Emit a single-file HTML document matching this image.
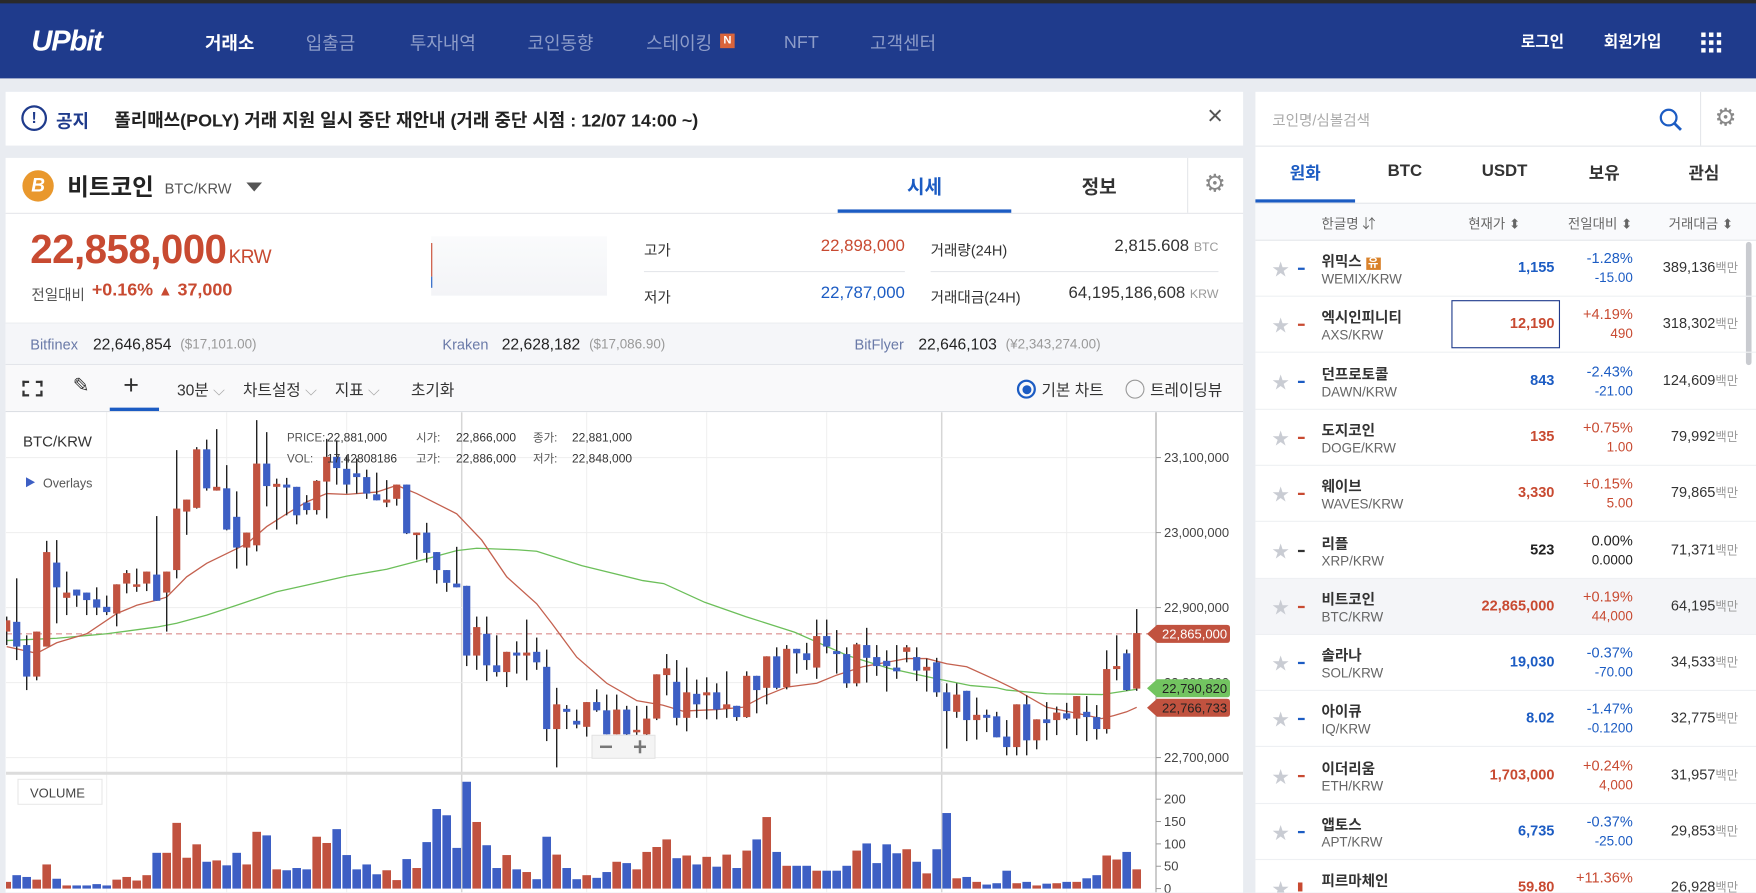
<!DOCTYPE html>
<html><head><meta charset="utf-8">
<style>
*{margin:0;padding:0;box-sizing:border-box}
body{width:1756px;height:892px;overflow:hidden;background:#e9ecf1;font-family:"Liberation Sans","Noto Sans CJK KR",sans-serif;color:#333}
#root{position:absolute;left:0;top:0;width:1568px;height:797px;transform:scale(1.1199);transform-origin:0 0;background:#e9ecf1}
.a{position:absolute;white-space:nowrap}
.nav{left:0;top:0;width:1568px;height:70px;background:#1f3b8c;border-top:3px solid #2a2a2a}
.menu{top:27px;font-size:16px;line-height:20px;height:20px;color:#8d9cc8}
.panel{background:#fff}
.red{color:#c84a31}.blue{color:#1c5cc3}
.row{position:absolute;left:1121px;width:447px;height:50px;border-bottom:1px solid #eef0f3}
.row .star{left:15px;top:15px;font-size:15px;color:#c9ccd3}
.row .mk{left:38px;top:24px;width:6px;height:2px}
.row .nm{left:59px;top:8px;font-size:13px;font-weight:bold;color:#333}
.row .sy{left:59px;top:27px;font-size:12px;color:#666}
.row .pr{right:180px;top:16px;font-size:13px;font-weight:bold;text-align:right}
.row .c1{right:110px;top:8px;font-size:13px;text-align:right}
.row .c2{right:110px;top:26px;font-size:12px;text-align:right}
.row .vo{right:16px;top:16px;font-size:13px;text-align:right;color:#333}
.row .vo small{font-size:11px;color:#999}
</style></head><body>
<div id="root">
<div class="a nav">
  <div class="a" style="left:28px;top:18px;font-size:26px;font-weight:bold;font-style:italic;color:#fff;letter-spacing:-1px">UPbit</div>
  <div class="a menu" style="left:183px;color:#fff;font-weight:bold">거래소</div>
  <div class="a menu" style="left:273px">입출금</div>
  <div class="a menu" style="left:366px">투자내역</div>
  <div class="a menu" style="left:471px">코인동향</div>
  <div class="a menu" style="left:577px">스테이킹</div>
  <div class="a" style="left:643px;top:27px;width:13px;height:13px;background:#d9643b;color:#fff;font-size:10px;font-weight:bold;text-align:center;line-height:13px">N</div>
  <div class="a menu" style="left:700px;top:26px">NFT</div>
  <div class="a menu" style="left:777px">고객센터</div>
  <div class="a" style="left:1358px;top:24px;font-size:14px;color:#fff;font-weight:bold">로그인</div>
  <div class="a" style="left:1432px;top:24px;font-size:14px;color:#fff;font-weight:bold">회원가입</div>
  <svg class="a" style="left:1519px;top:26px" width="18" height="18"><g fill="#fff"><rect x="0" y="0" width="4" height="4"/><rect x="7" y="0" width="4" height="4"/><rect x="14" y="0" width="4" height="4"/><rect x="0" y="7" width="4" height="4"/><rect x="7" y="7" width="4" height="4"/><rect x="14" y="7" width="4" height="4"/><rect x="0" y="14" width="4" height="4"/><rect x="7" y="14" width="4" height="4"/><rect x="14" y="14" width="4" height="4"/></g></svg>
</div>

<div class="a panel" style="left:5px;top:82px;width:1105px;height:48px">
  <div class="a" style="left:14px;top:12px;width:23px;height:23px;border:2px solid #1f3b8c;border-radius:50%;color:#1f3b8c;font-weight:bold;font-size:14px;text-align:center;line-height:19px">!</div>
  <div class="a" style="left:45px;top:13px;font-size:16px;font-weight:bold;color:#1f3b8c">공지</div>
  <div class="a" style="left:97px;top:12px;font-size:16px;font-weight:bold;color:#222">폴리매쓰(POLY) 거래 지원 일시 중단 재안내 (거래 중단 시점 : 12/07 14:00 ~)</div>
  <div class="a" style="left:1073px;top:8px;font-size:24px;color:#555">×</div>
</div>

<div class="a panel" style="left:5px;top:141px;width:1105px;height:656px">
  <div class="a" style="left:0;top:49px;width:1105px;height:1px;background:#e5e7eb"></div>
  <div class="a" style="left:15px;top:11px;width:28px;height:28px;border-radius:50%;background:#e9982d;color:#fff;font-weight:bold;font-size:17px;text-align:center;line-height:28px;font-style:italic">B</div>
  <div class="a" style="left:55px;top:10px;font-size:21px;font-weight:bold;color:#222">비트코인</div>
  <div class="a" style="left:142px;top:20px;font-size:13px;color:#555">BTC/KRW</div>
  <div class="a" style="left:215px;top:22px;width:0;height:0;border-left:7px solid transparent;border-right:7px solid transparent;border-top:8px solid #555"></div>
  <div class="a" style="left:743px;top:12px;width:155px;text-align:center;font-size:17px;font-weight:bold;color:#1c5cc3">시세</div>
  <div class="a" style="left:743px;top:46px;width:155px;height:3px;background:#1c5cc3"></div>
  <div class="a" style="left:898px;top:12px;width:157px;text-align:center;font-size:17px;font-weight:bold;color:#333">정보</div>
  <div class="a" style="left:1055px;top:0;width:1px;height:49px;background:#e5e7eb"></div>
  <div class="a" style="left:1070px;top:10px;font-size:22px;color:#888">⚙</div>

  <div class="a red" style="left:22px;top:61px;font-size:36px;font-weight:bold;letter-spacing:-0.5px">22,858,000<span style="font-size:17px;font-weight:normal;margin-left:2px">KRW</span></div>
  <div class="a" style="left:23px;top:112px;font-size:13px;color:#555">전일대비</div>
  <div class="a red" style="left:77px;top:110px;font-size:16px;font-weight:bold">+0.16% <span style="font-size:13px">▲</span> 37,000</div>
  <div class="a" style="left:380px;top:70px;width:157px;height:53px;background:linear-gradient(#fafbfc,#f3f4f7)"><div class="a" style="left:0;top:6px;width:1px;height:30px;background:#c84a31"></div><div class="a" style="left:0;top:36px;width:1px;height:10px;background:#1c5cc3"></div></div>
  <div class="a" style="left:570px;top:72px;font-size:13px">고가</div>
  <div class="a red" style="left:650px;top:70px;width:153px;text-align:right;font-size:15px">22,898,000</div>
  <div class="a" style="left:570px;top:101px;width:233px;height:1px;background:#e5e7eb"></div>
  <div class="a" style="left:570px;top:114px;font-size:13px">저가</div>
  <div class="a blue" style="left:650px;top:112px;width:153px;text-align:right;font-size:15px">22,787,000</div>
  <div class="a" style="left:826px;top:72px;font-size:13px">거래량(24H)</div>
  <div class="a" style="left:880px;top:70px;width:203px;text-align:right;font-size:15px">2,815.608 <span style="font-size:11px;color:#999">BTC</span></div>
  <div class="a" style="left:826px;top:101px;width:257px;height:1px;background:#e5e7eb"></div>
  <div class="a" style="left:826px;top:114px;font-size:13px">거래대금(24H)</div>
  <div class="a" style="left:880px;top:112px;width:203px;text-align:right;font-size:15px">64,195,186,608 <span style="font-size:11px;color:#999">KRW</span></div>

  <div class="a" style="left:0;top:147px;width:1105px;height:38px;background:#f5f6f9;border-top:1px solid #eceef2;border-bottom:1px solid #e3e5ea">
    <div class="a" style="left:22px;top:11px;font-size:13px;color:#6a7aa8">Bitfinex</div>
    <div class="a" style="left:78px;top:10px;font-size:14px;color:#222">22,646,854</div>
    <div class="a" style="left:156px;top:11px;font-size:12px;color:#999">($17,101.00)</div>
    <div class="a" style="left:390px;top:11px;font-size:13px;color:#6a7aa8">Kraken</div>
    <div class="a" style="left:443px;top:10px;font-size:14px;color:#222">22,628,182</div>
    <div class="a" style="left:521px;top:11px;font-size:12px;color:#999">($17,086.90)</div>
    <div class="a" style="left:758px;top:11px;font-size:13px;color:#6a7aa8">BitFlyer</div>
    <div class="a" style="left:815px;top:10px;font-size:14px;color:#222">22,646,103</div>
    <div class="a" style="left:893px;top:11px;font-size:12px;color:#999">(¥2,343,274.00)</div>
  </div>

  <div class="a" style="left:0;top:185px;width:1105px;height:42px;background:#f9f9fa;border-bottom:1px solid #dcdfe4">
    <div class="a" style="left:15px;top:14px;width:18px;height:14px;border:2px dashed #333;border-width:2px"></div>
    <div class="a" style="left:60px;top:8px;font-size:18px;color:#333">✎</div>
    <div class="a" style="left:105px;top:5px;font-size:24px;color:#333">+</div>
    <div class="a" style="left:93px;top:38px;width:44px;height:3px;background:#1c5cc3"></div>
    <div class="a" style="left:153px;top:12px;font-size:14px">30분 <span style="color:#aaa">⌵</span></div>
    <div class="a" style="left:212px;top:12px;font-size:14px">차트설정 <span style="color:#aaa">⌵</span></div>
    <div class="a" style="left:294px;top:12px;font-size:14px">지표 <span style="color:#aaa">⌵</span></div>
    <div class="a" style="left:362px;top:12px;font-size:14px">초기화</div>
    <div class="a" style="left:903px;top:13px;width:17px;height:17px;border:2px solid #1c5cc3;border-radius:50%"><div class="a" style="left:2.5px;top:2.5px;width:8px;height:8px;border-radius:50%;background:#1c5cc3"></div></div>
    <div class="a" style="left:925px;top:12px;font-size:14px">기본 차트</div>
    <div class="a" style="left:1000px;top:13px;width:17px;height:17px;border:1px solid #999;border-radius:50%"></div>
    <div class="a" style="left:1022px;top:12px;font-size:14px">트레이딩뷰</div>
  </div>
</div>

<div class="a panel" style="left:1121px;top:82px;width:447px;height:715px">
  <div class="a" style="left:15px;top:15px;font-size:13px;color:#aaa">코인명/심볼검색</div>
  <svg class="a" style="left:360px;top:14px" width="22" height="22"><circle cx="9" cy="9" r="7" fill="none" stroke="#1c5cc3" stroke-width="2"/><line x1="14" y1="14" x2="20" y2="20" stroke="#1c5cc3" stroke-width="2.5"/></svg>
  <div class="a" style="left:397px;top:0;width:1px;height:48px;background:#e5e7eb"></div>
  <div class="a" style="left:410px;top:10px;font-size:22px;color:#888">⚙</div>
  <div class="a" style="left:0;top:48px;width:447px;height:1px;background:#e5e7eb"></div>
  <div class="a" style="left:0;top:62px;width:89px;text-align:center;font-size:15px;font-weight:bold;color:#1c5cc3">원화</div>
  <div class="a" style="left:0;top:96px;width:89px;height:3px;background:#1c5cc3"></div>
  <div class="a" style="left:89px;top:62px;width:89px;text-align:center;font-size:15px;font-weight:bold">BTC</div>
  <div class="a" style="left:178px;top:62px;width:89px;text-align:center;font-size:15px;font-weight:bold">USDT</div>
  <div class="a" style="left:267px;top:62px;width:89px;text-align:center;font-size:15px;font-weight:bold">보유</div>
  <div class="a" style="left:356px;top:62px;width:89px;text-align:center;font-size:15px;font-weight:bold">관심</div>
  <div class="a" style="left:0;top:99px;width:447px;height:34px;background:#f9fafc;border-top:1px solid #e5e7eb;border-bottom:1px solid #e5e7eb">
    <div class="a" style="left:59px;top:9px;font-size:12px;color:#666">한글명 ⇵</div>
    <div class="a" style="left:190px;top:9px;font-size:12px;color:#666">현재가 ⬍</div>
    <div class="a" style="left:279px;top:9px;font-size:12px;color:#666">전일대비 ⬍</div>
    <div class="a" style="left:369px;top:9px;font-size:12px;color:#666">거래대금 ⬍</div>
  </div>
  <div class="a" style="left:438px;top:134px;width:5px;height:110px;background:#c9cbd0;border-radius:3px"></div>
</div>

<div class="row" style="top:215px"><span class="a star">★</span><span class="a mk" style="background:#1c5cc3"></span><span class="a nm">위믹스 <span style="background:#d9822b;color:#fff;font-size:10px;padding:0 2px">유</span></span><span class="a sy">WEMIX/KRW</span><span class="a pr blue">1,155</span><span class="a c1 blue">-1.28%</span><span class="a c2 blue">-15.00</span><span class="a vo">389,136<small>백만</small></span></div>
<div class="row" style="top:265px"><span class="a star">★</span><span class="a mk" style="background:#c84a31"></span><span class="a nm">엑시인피니티</span><span class="a sy">AXS/KRW</span><span class="a" style="left:175px;top:3px;width:97px;height:43px;border:1px solid #1f3b8c"></span><span class="a pr red">12,190</span><span class="a c1 red">+4.19%</span><span class="a c2 red">490</span><span class="a vo">318,302<small>백만</small></span></div>
<div class="row" style="top:316px"><span class="a star">★</span><span class="a mk" style="background:#1c5cc3"></span><span class="a nm">던프로토콜</span><span class="a sy">DAWN/KRW</span><span class="a pr blue">843</span><span class="a c1 blue">-2.43%</span><span class="a c2 blue">-21.00</span><span class="a vo">124,609<small>백만</small></span></div>
<div class="row" style="top:366px"><span class="a star">★</span><span class="a mk" style="background:#c84a31"></span><span class="a nm">도지코인</span><span class="a sy">DOGE/KRW</span><span class="a pr red">135</span><span class="a c1 red">+0.75%</span><span class="a c2 red">1.00</span><span class="a vo">79,992<small>백만</small></span></div>
<div class="row" style="top:416px"><span class="a star">★</span><span class="a mk" style="background:#c84a31"></span><span class="a nm">웨이브</span><span class="a sy">WAVES/KRW</span><span class="a pr red">3,330</span><span class="a c1 red">+0.15%</span><span class="a c2 red">5.00</span><span class="a vo">79,865<small>백만</small></span></div>
<div class="row" style="top:467px"><span class="a star">★</span><span class="a mk" style="background:#333"></span><span class="a nm">리플</span><span class="a sy">XRP/KRW</span><span class="a pr" style="color:#222">523</span><span class="a c1" style="color:#222">0.00%</span><span class="a c2" style="color:#222">0.0000</span><span class="a vo">71,371<small>백만</small></span></div>
<div class="row" style="top:517px;background:#f4f5f8"><span class="a star">★</span><span class="a mk" style="background:#c84a31"></span><span class="a nm">비트코인</span><span class="a sy">BTC/KRW</span><span class="a pr red">22,865,000</span><span class="a c1 red">+0.19%</span><span class="a c2 red">44,000</span><span class="a vo">64,195<small>백만</small></span></div>
<div class="row" style="top:567px"><span class="a star">★</span><span class="a mk" style="background:#1c5cc3"></span><span class="a nm">솔라나</span><span class="a sy">SOL/KRW</span><span class="a pr blue">19,030</span><span class="a c1 blue">-0.37%</span><span class="a c2 blue">-70.00</span><span class="a vo">34,533<small>백만</small></span></div>
<div class="row" style="top:617px"><span class="a star">★</span><span class="a mk" style="background:#1c5cc3"></span><span class="a nm">아이큐</span><span class="a sy">IQ/KRW</span><span class="a pr blue">8.02</span><span class="a c1 blue">-1.47%</span><span class="a c2 blue">-0.1200</span><span class="a vo">32,775<small>백만</small></span></div>
<div class="row" style="top:668px"><span class="a star">★</span><span class="a mk" style="background:#c84a31"></span><span class="a nm">이더리움</span><span class="a sy">ETH/KRW</span><span class="a pr red">1,703,000</span><span class="a c1 red">+0.24%</span><span class="a c2 red">4,000</span><span class="a vo">31,957<small>백만</small></span></div>
<div class="row" style="top:718px"><span class="a star">★</span><span class="a mk" style="background:#1c5cc3"></span><span class="a nm">앱토스</span><span class="a sy">APT/KRW</span><span class="a pr blue">6,735</span><span class="a c1 blue">-0.37%</span><span class="a c2 blue">-25.00</span><span class="a vo">29,853<small>백만</small></span></div>
<div class="row" style="top:768px;height:29px;overflow:hidden;border:none"><span class="a star">★</span><span class="a mk" style="background:#c84a31;top:20px;height:8px;width:4px"></span><span class="a nm">피르마체인</span><span class="a pr red">59.80</span><span class="a c1 red">+11.36%</span><span class="a vo">26,928<small>백만</small></span></div>

<svg id="chart" class="a" style="left:0;top:0" width="1568" height="797" viewBox="0 0 1756 892"></svg>
</div>

<script>
const opens=[22868,22881,22850,22808,22848,22960,22913,22924,22920,22911,22901,22892,22932,22930,22932,22944,22920,22950,23028,23033,23111,23056,23059,23021,22980,22983,23092,23061,23064,23061,23040,23030,23068,23101,23085,23079,23074,23051,23040,23045,23064,22997,23000,22974,22950,22932,22929,22836,22865,22823,22814,22840,22836,22841,22821,22738,22765,22749,22741,22774,22763,22731,22764,22735,22731,22752,22810,22801,22753,22785,22783,22787,22765,22769,22754,22809,22793,22835,22794,22845,22839,22820,22862,22842,22838,22799,22850,22834,22829,22820,22841,22834,22816,22827,22787,22761,22789,22750,22757,22755,22728,22714,22771,22723,22751,22750,22759,22752,22761,22754,22738,22818,22839,22792];
const highs=[22888,22939,22863,22868,22989,22990,22948,22924,22920,22927,22916,22931,22950,22952,22948,23022,22948,23110,23044,23114,23124,23138,23090,23055,23000,23150,23134,23072,23073,23061,23050,23070,23125,23123,23103,23099,23084,23080,23070,23064,23064,23000,23013,22974,22950,22981,22929,22888,22888,22863,22841,22855,22884,22860,22844,22793,22770,22764,22774,22791,22784,22784,22769,22769,22769,22811,22838,22830,22820,22804,22807,22799,22815,22769,22815,22809,22835,22847,22850,22845,22853,22884,22884,22870,22847,22853,22873,22850,22843,22850,22850,22847,22832,22833,22799,22799,22789,22780,22764,22761,22750,22771,22783,22751,22774,22768,22773,22782,22782,22770,22843,22863,22844,22898];
const lows=[22850,22830,22790,22803,22848,22879,22890,22901,22890,22890,22890,22875,22919,22921,22922,22909,22868,22939,22997,23032,23056,23056,23003,22952,22956,22975,23035,23004,23023,23011,23024,23024,23019,23064,23052,23052,23045,23043,23034,23036,22998,22964,22960,22932,22921,22927,22822,22817,22802,22808,22794,22812,22803,22817,22722,22687,22738,22739,22728,22761,22731,22731,22725,22723,22719,22750,22783,22743,22735,22753,22751,22751,22753,22749,22753,22759,22771,22791,22791,22812,22817,22805,22839,22812,22793,22795,22800,22809,22788,22805,22827,22802,22788,22781,22712,22753,22722,22724,22734,22727,22703,22703,22703,22711,22723,22730,22750,22730,22722,22724,22732,22803,22789,22789];
const closes=[22883,22848,22808,22868,22974,22927,22920,22916,22910,22900,22894,22931,22946,22931,22948,22909,22948,23032,23044,23111,23059,23061,23004,22980,23000,23092,23062,23065,23060,23023,23030,23069,23101,23086,23064,23074,23052,23043,23044,23064,22999,23000,22973,22950,22933,22927,22836,22874,22823,22814,22841,22836,22840,22827,22738,22771,22761,22744,22774,22763,22731,22764,22731,22737,22752,22811,22819,22753,22787,22771,22787,22764,22771,22754,22809,22790,22835,22793,22845,22839,22830,22862,22848,22838,22799,22851,22833,22822,22822,22815,22847,22816,22821,22787,22762,22784,22750,22757,22753,22727,22714,22771,22723,22751,22746,22760,22752,22782,22754,22738,22818,22822,22790,22866];
const volumes=[15,30,26,20,54,22,7,7,7,10,7,20,26,18,30,80,80,147,69,99,60,63,52,80,54,127,119,43,41,46,43,116,102,133,75,43,54,32,41,19,66,46,104,178,164,91,239,149,97,46,75,43,37,21,116,76,46,21,30,24,37,60,57,43,82,93,110,68,74,54,71,49,76,46,85,110,160,82,51,51,51,40,40,40,51,85,101,57,99,79,88,60,34,88,169,23,26,15,9,12,40,12,15,7,11,12,15,15,23,30,74,65,82,43];
const maShortIdx=[0,3,5,8,11,13,15,16,18,20,22,24,26,28,30,32,34,37,39,41,45,47.5,50,53,54.5,57,60,63,65.6,67.6,71,73.6,75.6,78,81,83,85.6,88,90,92,94,96,99,101,104,107,109.5,110.7,112,113];
const maShortVal=[22848,22839,22853,22865,22892,22903,22910,22914,22941,22959,22972,22985,23008,23025,23041,23052,23051,23054,23063,23052,23025,22990,22941,22905,22879,22834,22799,22776,22770,22762,22764,22767,22781,22794,22799,22810,22821,22827,22832,22832,22825,22821,22803,22790,22767,22759,22752,22756,22761,22767];
const maLongIdx=[0,5,10,15,17,20,23,27,30,34,38,42,45,47,51,53,57.5,63.6,65.7,69.8,73.9,78.8,84.1,88.2,92.3,96.4,99,100,104,109.5,113];
const maLongVal=[22856,22859,22865,22874,22879,22890,22903,22921,22930,22942,22951,22965,22976,22979,22977,22975,22956,22936,22932,22907,22888,22867,22836,22819,22807,22796,22793,22790,22785,22784,22791];
const priceTicks=[23100000,23000000,22900000,22800000,22700000];
const volTicks=[200,150,100,50,0];
const lastPrice=22865, maLongLast=22790820, maShortLast=22766733;

const NS='http://www.w3.org/2000/svg';
const svg=document.getElementById('chart');
const PL=6, PR=1156, PT=412, PB=773;
function xOf(i){return 6.7+10*i;}
function yOf(p){return 457.3+(23100-p)*0.75;}
function vY(v){return 888.3-v*0.447;}
function mk(tag,attrs,parent){const e=document.createElementNS(NS,tag);for(const k in attrs)e.setAttribute(k,attrs[k]);(parent||svg).appendChild(e);return e;}
const RED='#c1523f', BLUE='#3d5fc4';

const bg=mk('rect',{x:PL,y:PT,width:1243-PL,height:892-PT,fill:'#fff'});


const defs=mk('defs',{});
const cp=mk('clipPath',{id:'plotclip'},defs);mk('rect',{x:PL,y:PT,width:PR-PL,height:PB-PT},cp);
const cpv=mk('clipPath',{id:'volclip'},defs);mk('rect',{x:PL,y:PB,width:PR-PL,height:892-PB},cpv);

const grid=mk('g',{});


[106.7,226.7,346.7,461.7,586.7,706.7,826.7,941.7,1066.7].forEach((gx)=>{
  const dark=(gx===461.7||gx===941.7);
  mk('line',{x1:gx,x2:gx,y1:PT,y2:892,stroke:dark?'#d6d6d6':'#eeeeee','stroke-width':dark?1.5:1},grid);
});
priceTicks.forEach(t=>{const y=yOf(t/1000);mk('line',{x1:PL,x2:PR,y1:y,y2:y,stroke:'#eeeeee'},grid);});
mk('line',{x1:PL,x2:1243,y1:PB,y2:PB,stroke:'#dcdcdc','stroke-width':3},grid);
mk('line',{x1:PR,x2:PR,y1:PT,y2:892,stroke:'#9a9a9a'},grid);

const pax=mk('g',{});


priceTicks.forEach(t=>{const y=yOf(t/1000);
  mk('line',{x1:PR,x2:PR+5,y1:y,y2:y,stroke:'#9a9a9a'},pax);
  const tx=mk('text',{x:PR+8,y:y+4.5,'font-size':13,fill:'#444','font-family':'Liberation Sans'},pax);tx.textContent=t.toLocaleString('en-US');});
const vax=mk('g',{});


volTicks.forEach(t=>{const y=vY(t);
  mk('line',{x1:PR,x2:PR+5,y1:y,y2:y,stroke:'#9a9a9a'},vax);
  const tx=mk('text',{x:PR+8,y:y+4.5,'font-size':13,fill:'#444','font-family':'Liberation Sans'},vax);tx.textContent=String(t);});

const lp=mk('line',{x1:PL,x2:PR,y1:yOf(lastPrice),y2:yOf(lastPrice),stroke:'#e0a0a0','stroke-dasharray':'6,4','stroke-width':1.3});



function maPath(idx,val,color,name){
  const d=idx.map((ix,k)=>(k?'L':'M')+xOf(ix).toFixed(1)+','+yOf(val[k]).toFixed(1)).join(' ');
  const p=mk('path',{d:d,fill:'none',stroke:color,'stroke-width':1.3,'clip-path':'url(#plotclip)'});
  
  
}
maPath(maLongIdx,maLongVal,'#6cbf5a','ma-long-line');
maPath(maShortIdx,maShortVal,'#c4614f','ma-short-line');

const cg=mk('g',{'clip-path':'url(#plotclip)'});


const vg=mk('g',{'clip-path':'url(#volclip)'});


for(let i=0;i<opens.length;i++){
  const up=closes[i]>=opens[i];const col=up?RED:BLUE;const x=xOf(i);
  const w=mk('line',{x1:x,x2:x,y1:yOf(highs[i]),y2:yOf(lows[i]),stroke:'#222','stroke-width':1.4},cg);
  
  
  const top=yOf(Math.max(opens[i],closes[i])),bot=yOf(Math.min(opens[i],closes[i]));
  const b=mk('rect',{x:x-3.6,y:top,width:7.2,height:Math.max(bot-top,2.5),fill:col},cg);
  
  
  const vb=mk('rect',{x:x-4.3,y:vY(volumes[i]),width:8.6,height:888.3-vY(volumes[i]),fill:col},vg);
  
  
}

function tag(y,txt,fill,tcol,name){
  const g=mk('g',{});
  
  
  mk('path',{d:`M${PR-9},${y} L${PR+1},${y-9} L${PR+71},${y-9} Q${PR+74},${y-9} ${PR+74},${y-6} L${PR+74},${y+6} Q${PR+74},${y+9} ${PR+71},${y+9} L${PR+1},${y+9} Z`,fill:fill},g);
  const t=mk('text',{x:PR+6,y:y+4.5,'font-size':13,fill:tcol,'font-family':'Liberation Sans'},g);t.textContent=txt;
}
tag(yOf(lastPrice),'22,865,000','#c1523f','#fff','last-price-tag');
tag(688,maLongLast.toLocaleString('en-US'),'#72c460','#222','ma-long-tag');
tag(707.5,maShortLast.toLocaleString('en-US'),'#c1523f','#222','ma-short-tag');

function txt(x,y,s,size,fill,name){const t=mk('text',{x:x,y:y,'font-size':size,fill:fill,'font-family':'Liberation Sans, Noto Sans CJK KR, sans-serif'});t.textContent=s;
  
  return t;}
txt(23,446,'BTC/KRW',15,'#333','chart-symbol-label');
mk('path',{d:'M26,477 L35,482 L26,487 Z',fill:'#3d5fc4'});
txt(43,487,'Overlays',12.5,'#555','overlays-toggle');
txt(287,441,'PRICE:',11.5,'#555','info-price-label');txt(327,441,'22,881,000',12,'#333','info-price');
txt(287,462,'VOL:',11.5,'#555','info-vol-label');txt(327,462,'17.42808186',12,'#333','info-vol');
txt(416,441,'시가:',11.5,'#555','info-open-label');txt(456,441,'22,866,000',12,'#333','info-open');
txt(416,462,'고가:',11.5,'#555','info-high-label');txt(456,462,'22,886,000',12,'#333','info-high');
txt(533,441,'종가:',11.5,'#555','info-close-label');txt(572,441,'22,881,000',12,'#333','info-close');
txt(533,462,'저가:',11.5,'#555','info-low-label');txt(572,462,'22,848,000',12,'#333','info-low');

const zc=mk('g',{});


mk('rect',{x:592,y:735,width:63,height:23,fill:'#f4f4f4',stroke:'#e2e2e2'},zc);
mk('line',{x1:600,x2:612,y1:746.5,y2:746.5,stroke:'#777','stroke-width':2.5},zc);
mk('line',{x1:634,x2:646,y1:746.5,y2:746.5,stroke:'#777','stroke-width':2.5},zc);
mk('line',{x1:640,x2:640,y1:740,y2:753,stroke:'#777','stroke-width':2.5},zc);

const vl=mk('g',{});


mk('rect',{x:18,y:779,width:84,height:25,fill:'#fff',stroke:'#e6e6e6'},vl);
const vt=mk('text',{x:30,y:797,'font-size':13,fill:'#444','font-family':'Liberation Sans'},vl);vt.textContent='VOLUME';
</script>
</body></html>
